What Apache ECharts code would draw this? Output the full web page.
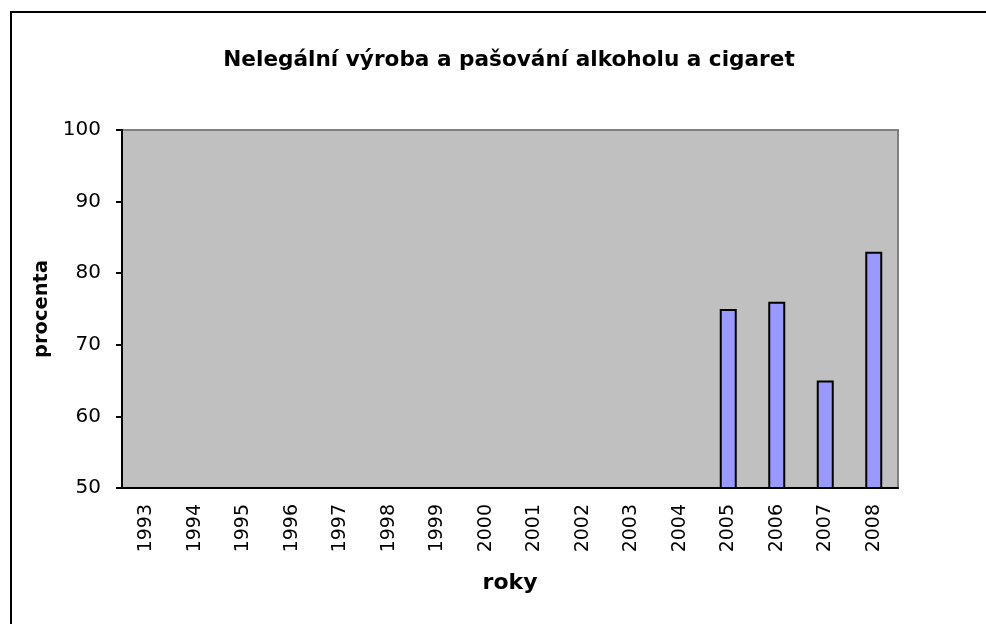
<!DOCTYPE html>
<html>
<head>
<meta charset="utf-8">
<script src="https://cdn.jsdelivr.net/npm/echarts@6/dist/echarts.min.js"></script>
<style>
  html, body { margin: 0; padding: 0; background: #fff; }
  #chart { width: 986px; height: 624px; }
</style>
</head>
<body>
<div id="chart"></div>
<script>
const years = ['1993', '1994', '1995', '1996', '1997', '1998', '1999', '2000',
  '2001', '2002', '2003', '2004', '2005', '2006', '2007', '2008']
const values = [null, null, null, null, null, null, null, null,
  null, null, null, null, 75, 76, 65, 83]
const yTicks = [50, 60, 70, 80, 90, 100]

const font = 'DejaVu Sans, Verdana, sans-serif'
const chart = echarts.init(document.getElementById('chart'))

chart.setOption({
  animation: false,
  title: {
    text: 'Nelegální výroba a pašování alkoholu a cigaret',
    left: 504,
    top: 44,
    textAlign: 'center',
    textStyle: {
      fontFamily: font,
      fontWeight: 'bold',
      fontSize: 21.6,
      color: '#000'
    }
  },
  graphic: [{
    type: 'rect',
    shape: { x: 11, y: 12, width: 1200, height: 800 },
    style: { fill: 'none', stroke: '#000', lineWidth: 2 },
    silent: true
  }],
  grid: {
    left: 122,
    top: 130,
    right: 88,
    bottom: 136,
    show: true,
    backgroundColor: '#C0C0C0',
    borderColor: '#808080',
    borderWidth: 2
  },
  xAxis: {
    type: 'category',
    data: years,
    name: 'roky',
    nameLocation: 'middle',
    nameGap: 84,
    nameTextStyle: {
      fontFamily: font,
      fontWeight: 'bold',
      fontSize: 22,
      color: '#000'
    },
    axisLine: { lineStyle: { color: '#000', width: 2 } },
    axisTick: { length: 6, lineStyle: { color: '#000', width: 2 } },
    axisLabel: {
      rotate: 90,
      margin: 16,
      fontFamily: font,
      fontSize: 19,
      color: '#000'
    }
  },
  yAxis: {
    type: 'value',
    min: yTicks[0],
    max: yTicks[yTicks.length - 1],
    interval: 10,
    name: 'procenta',
    nameLocation: 'middle',
    nameRotate: 90,
    nameGap: 66,
    nameTextStyle: {
      fontFamily: font,
      fontWeight: 'bold',
      fontSize: 19.5,
      color: '#000'
    },
    axisLine: { show: true, lineStyle: { color: '#000', width: 2 } },
    axisTick: { show: true, length: 6, lineStyle: { color: '#000', width: 2 } },
    axisLabel: {
      margin: 21,
      fontFamily: font,
      fontSize: 20,
      color: '#000'
    },
    splitLine: { show: false }
  },
  series: [{
    type: 'bar',
    data: values,
    barWidth: 17,
    itemStyle: {
      color: '#9999FF',
      borderColor: '#000',
      borderWidth: 2
    }
  }]
})
</script>
</body>
</html>
